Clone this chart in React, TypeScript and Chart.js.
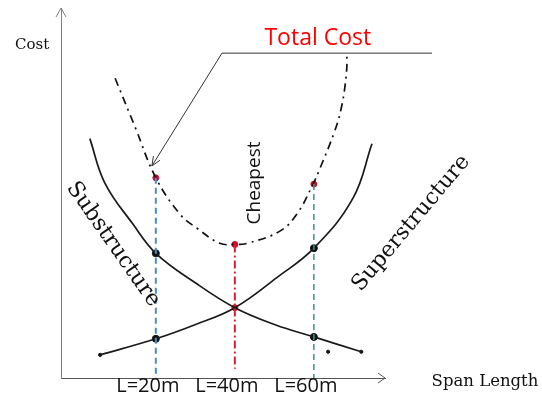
import React, { useEffect, useRef } from 'react';
import { Chart, registerables } from 'chart.js';

Chart.register(...registerables);

// ---- data (span length in m, cost in arbitrary units) ----
const spanTicks = [20, 40, 60];

const substructureX = [3.3, 7.1, 14.2, 20, 29.9, 40, 50.2, 60, 72];
const substructureY = [64.7, 52.7, 41.6, 33.7, 25.8, 19.0, 14.4, 11.1, 7.1];

const superstructureX = [5.9, 20, 29.9, 40, 50.7, 60, 69.9, 74.7];
const superstructureY = [6.25, 10.6, 14.4, 19.0, 27.2, 35.1, 48.6, 63.3];

const totalX = [9.7, 14.8, 20, 26.1, 30.4, 36.2, 40, 43.1, 51.4, 55.7, 59.8, 61.6, 65.3, 66.9, 67.9, 68.4, 68.1];
const totalY = [81, 67.7, 54.1, 44.3, 40.5, 36.4, 36.1, 36.4, 39.7, 44.3, 52.4, 56.8, 66.8, 72.8, 79.1, 85.9, 87.8];

const totalAtTicks = [54.1, 36.1, 52.4];
const substructureAtTicks = [33.7, 19.0, 11.1];
const superstructureAtTicks = [10.6, 19.0, 35.1];
const crossingPoint = [40, 19.0];
const strayDot = [63.6, 7.1];
const guideBottoms = [0, 2.5, 0];

const zip = (xs: number[], ys: number[]) => xs.map((x, i) => ({ x, y: ys[i] }));

// ---- annotation placement (data units) ----
const totalLabelPos = [61.0, 91.8];
const leaderRightEnd = [89.9, 87.8];
const leaderCorner = [36.75, 87.8];
const leaderTip = [19.0, 57.3];
const cheapestPos = [44.9, 52.7];
const subLabelPos = [9.2, 36.1];
const supLabelPos = [84.6, 41.8];
const costLabelPos = [-11.3, 89.9];
const spanLabelPos = [103.3, -1.1];

const annotationPlugin = {
  id: 'annotations',
  afterDraw(chart: any) {
    const { ctx, scales } = chart;
    const xs = scales.x;
    const ys = scales.y;
    const px = (p: number[]) => [xs.getPixelForValue(p[0]), ys.getPixelForValue(p[1])];
    const area = chart.chartArea;
    ctx.save();

    // axis arrowheads
    ctx.strokeStyle = '#808080';
    ctx.lineWidth = 1;
    ctx.beginPath();
    ctx.moveTo(area.left - 5, area.top + 9);
    ctx.lineTo(area.left, area.top);
    ctx.lineTo(area.left + 5, area.top + 9);
    ctx.stroke();
    ctx.strokeStyle = '#555';
    ctx.beginPath();
    ctx.moveTo(area.right - 7, area.bottom - 5);
    ctx.lineTo(area.right, area.bottom);
    ctx.lineTo(area.right - 7, area.bottom + 5);
    ctx.stroke();

    // leader line to Total Cost
    const [rx, ry] = px(leaderRightEnd);
    const [cx, cy] = px(leaderCorner);
    const [tx, ty] = px(leaderTip);
    ctx.strokeStyle = '#333';
    ctx.lineWidth = 1;
    ctx.beginPath();
    ctx.moveTo(rx, ry);
    ctx.lineTo(cx, cy);
    ctx.lineTo(tx, ty);
    ctx.stroke();
    const ang = Math.atan2(ty - cy, tx - cx);
    const ah = 10;
    ctx.beginPath();
    ctx.moveTo(tx - ah * Math.cos(ang - 0.4), ty - ah * Math.sin(ang - 0.4));
    ctx.lineTo(tx, ty);
    ctx.lineTo(tx - ah * Math.cos(ang + 0.4), ty - ah * Math.sin(ang + 0.4));
    ctx.stroke();

    const text = (s: string, p: number[], font: string, color: string, rot: number) => {
      const [x, y] = px(p);
      ctx.save();
      ctx.translate(x, y);
      ctx.rotate((rot * Math.PI) / 180);
      ctx.font = font;
      ctx.fillStyle = color;
      ctx.textAlign = 'center';
      ctx.textBaseline = 'middle';
      ctx.fillText(s, 0, 0);
      ctx.restore();
    };
    text('Total Cost', totalLabelPos, '23px "Open Sans"', '#ff0000', 0);
    text('Cheapest', cheapestPos, '19px "Open Sans"', '#111', -90);
    text('Substructure', subLabelPos, '22px "DejaVu Serif"', '#111', 55);
    text('Superstructure', supLabelPos, '22px "DejaVu Serif"', '#111', -50);
    text('Cost', costLabelPos, '15px "DejaVu Serif"', '#111', 0);
    text('Span Length', spanLabelPos, '16.5px "DejaVu Serif"', '#111', 0);
    ctx.restore();
  },
};

export default function App() {
  const ref = useRef<HTMLCanvasElement>(null);

  useEffect(() => {
    if (!ref.current) return;
    const guide = (i: number, color: string, dash: number[], width: number) => ({
      type: 'line' as const,
      data: [
        { x: spanTicks[i], y: totalAtTicks[i] },
        { x: spanTicks[i], y: guideBottoms[i] },
      ],
      borderColor: color,
      borderDash: dash,
      borderWidth: width,
      pointRadius: 0,
      showLine: true,
    });
    const dots = (pts: { x: number; y: number }[], r: number, color: string) => ({
      data: pts,
      pointRadius: r,
      backgroundColor: color,
      borderColor: color,
      borderWidth: 1,
    });
    const chart = new Chart(ref.current, {
      type: 'scatter',
      data: {
        datasets: [
          guide(0, '#4a8cc4', [6, 4], 2),
          guide(1, '#e02030', [8, 3, 2, 3], 2),
          guide(2, '#3f8f8a', [6, 4], 1.5),
          {
            data: zip(substructureX, substructureY),
            showLine: true,
            borderColor: '#1a1a1a',
            borderWidth: 1.7,
            pointRadius: 0,
            tension: 0.4,
          } as any,
          {
            data: zip(superstructureX, superstructureY),
            showLine: true,
            borderColor: '#1a1a1a',
            borderWidth: 1.7,
            pointRadius: 0,
            tension: 0.4,
          } as any,
          {
            data: zip(totalX, totalY),
            showLine: true,
            borderColor: '#111',
            borderWidth: 1.7,
            borderDash: [8, 5, 2, 5],
            pointRadius: 0,
            tension: 0.4,
          } as any,
          dots(
            [
              { x: superstructureX[0], y: superstructureY[0] },
              { x: substructureX[substructureX.length - 1], y: substructureY[substructureY.length - 1] },
              { x: strayDot[0], y: strayDot[1] },
            ],
            1.6,
            '#111'
          ),
          dots(
            [
              { x: spanTicks[0], y: substructureAtTicks[0] },
              { x: spanTicks[0], y: superstructureAtTicks[0] },
              { x: spanTicks[2], y: substructureAtTicks[2] },
              { x: spanTicks[2], y: superstructureAtTicks[2] },
            ],
            3.5,
            '#111'
          ),
          dots(
            [
              ...spanTicks.map((x, i) => ({ x, y: totalAtTicks[i] })),
              { x: crossingPoint[0], y: crossingPoint[1] },
            ],
            3,
            '#c8102e'
          ),
        ] as any,
      },
      options: {
        animation: false,
        responsive: false,
        devicePixelRatio: 1,
        layout: { padding: { left: 61, top: 8, right: 157, bottom: 3 } },
        plugins: { legend: { display: false }, tooltip: { enabled: false } },
        scales: {
          x: {
            type: 'linear',
            min: -4,
            max: 78,
            grid: { display: false, drawTicks: false },
            border: { display: true, color: '#555', width: 1 },
            afterBuildTicks: (scale: any) => {
              scale.ticks = spanTicks.map((v) => ({ value: v }));
            },
            ticks: {
              padding: -2,
              labelOffset: -8,
              color: '#111',
              font: { family: 'Open Sans', size: 20, lineHeight: 1 },
              callback: (v: any) => `L=${v}m`,
              maxRotation: 0,
              autoSkip: false,
            },
          },
          y: {
            type: 'linear',
            min: 0,
            max: 100,
            grid: { display: false, drawTicks: false },
            border: { display: true, color: '#808080', width: 1 },
            ticks: { display: false },
          },
        },
      } as any,
      plugins: [annotationPlugin],
    });
    return () => chart.destroy();
  }, []);

  return (
    <div style={{ position: 'fixed', left: 0, top: 0, width: 542, height: 397, background: '#fff' }}>
      <canvas ref={ref} width={542} height={397} />
    </div>
  );
}
